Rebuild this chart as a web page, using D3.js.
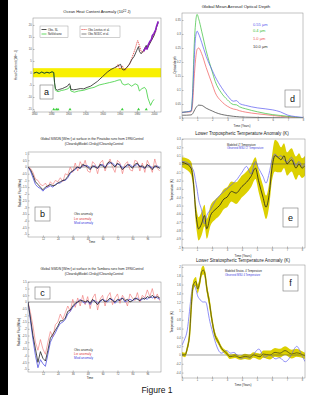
<!DOCTYPE html>
<html><head><meta charset="utf-8">
<script src="https://cdn.jsdelivr.net/npm/d3@7"></script>
<style>body{margin:0;background:#fff}svg{display:block}</style>
</head><body><svg id="c" width="325" height="395"></svg>
<script>
// ---------- Panel a: Ocean heat content anomaly ----------
const aBlackYears=[1860,1863,1866,1869,1872,1875,1878,1881,1883,1884,1885,1887,1890,1893,1896,1899,1901,1902,1903,1906,1910,1914,1918,1922,1926,1930,1934,1937,1940,1943,1946,1950,1954,1958,1961,1963,1965,1968,1971,1974,1977,1980,1982,1983,1985,1988,1991,1992,1994,1997,2000,2003,2005];
const aBlack=[0.0,0.3,-0.2,0.4,-0.1,0.3,0.0,0.5,0.2,-4.0,-6.5,-7.2,-6.8,-6.5,-6.0,-5.5,-4.5,-4.8,-6.8,-7.0,-6.8,-6.5,-6.6,-6.0,-5.5,-4.5,-3.5,-2.5,-1.5,-0.5,0.5,1.5,2.2,3.0,3.6,1.5,1.2,2.2,3.5,5.5,7.0,9.5,11.0,9.0,8.0,9.5,11.5,10.0,11.5,13.5,15.5,19.0,21.0];
const aGreenYears=[1860,1863,1866,1869,1872,1875,1878,1881,1883,1884,1885,1888,1892,1896,1900,1902,1903,1907,1912,1918,1924,1930,1936,1942,1948,1954,1958,1961,1963,1966,1970,1974,1978,1981,1983,1986,1989,1991,1993,1995,1996,1998,2000];
const aGreen=[0.0,0.3,-0.2,0.4,-0.1,0.3,0.0,0.5,0.2,-4.5,-7.2,-7.8,-7.3,-7.0,-6.5,-5.5,-7.5,-8.0,-7.5,-7.2,-6.5,-6.0,-5.0,-4.5,-4.0,-3.5,-3.0,-2.8,-4.5,-5.0,-4.5,-5.5,-4.5,-5.0,-7.5,-6.5,-6.0,-7.0,-10.5,-12.5,-13.5,-12.0,-11.0];
const aRedYears=[1955,1958,1960,1963,1966,1969,1972,1975,1978,1980,1981,1983,1985,1987,1990,1993,1996,1999,2003];
const aRed=[2.0,3.5,1.5,3.0,1.0,2.5,4.0,7.0,10.0,12.5,13.5,11.5,9.0,8.5,10.0,11.0,13.0,15.0,18.0];
const aPurpleYears=[1988,1990,1992,1993,1995,1997,1998,2000,2002,2003,2005];
const aPurple=[9.0,10.5,10.0,11.5,13.0,14.0,15.5,16.5,18.0,19.5,21.5];
const aVolcanoYears=[1883,1886,1888,1902,1963,1982,1991];
const aBand=[-1.8,2.0];
const aXTicks=[1860,1880,1900,1920,1940,1960,1980,2000];
const aYTicks=[-15,-10,-5,0,5,10,15,20];

// ---------- Panels b, c: SW radiative flux (2-month steps) ----------
const bcMonths=d3.range(0,108,2);
const bObs=[0,-0.2,-0.6,-1.1,-1.3,-1.5,-1.7,-1.5,-1.4,-1.3,-1.4,-1.35,-1.2,-1.1,-1.0,-0.95,-0.7,-0.4,-0.3,-0.1,0.0,-0.1,0.2,0.1,0.0,-0.2,0.1,0.0,-0.1,0.2,0.1,-0.1,0.3,0.4,0.2,0.0,0.3,0.1,-0.2,0.0,0.2,0.1,-0.1,0.2,0.3,0.0,0.1,-0.1,0.2,0.0,-0.2,0.1,0.0,-0.1];
const bLsr=[0,-0.1,-0.4,-0.9,-1.0,-1.3,-1.4,-1.2,-1.5,-1.1,-1.3,-1.0,-1.1,-0.8,-1.1,-0.5,-0.6,0.0,-0.4,0.3,-0.3,0.4,0.0,0.5,-0.3,-0.4,0.4,0.2,-0.5,0.3,0.5,-0.3,0.2,0.6,0.0,-0.4,0.5,0.3,-0.5,0.2,0.4,-0.2,-0.3,0.5,0.4,-0.3,0.3,-0.4,0.5,0.1,-0.4,0.6,-0.1,-0.3];
const bMod=[0,-0.3,-0.8,-1.3,-1.5,-1.6,-1.8,-1.6,-1.5,-1.4,-1.5,-1.3,-1.2,-1.2,-1.0,-1.0,-0.8,-0.5,-0.3,-0.2,0.0,-0.1,0.1,0.1,0.1,-0.1,0.0,0.1,-0.1,0.1,0.2,0.0,0.2,0.3,0.3,0.1,0.2,0.2,-0.1,0.0,0.1,0.2,0.0,0.1,0.2,0.1,0.0,-0.1,0.1,0.1,-0.1,0.0,0.1,-0.1];
const cObs=[0,-1.2,-2.5,-3.5,-4.5,-3.7,-4.2,-4.4,-3.6,-2.7,-2.4,-2.1,-1.8,-1.4,-1.4,-1.2,-0.7,-0.6,-0.3,-0.1,0.0,0.1,0.1,0.0,0.1,-0.1,0.2,0.0,-0.2,0.1,0.2,0.0,0.1,0.3,0.1,0.0,0.2,0.1,0.3,0.1,0.2,0.0,0.1,0.3,0.2,0.1,0.3,0.2,0.4,0.3,0.5,0.3,0.4,0.3];
const cLsr=[0,-0.8,-1.8,-3.0,-3.6,-2.8,-3.5,-3.9,-3.0,-2.2,-2.6,-1.7,-1.5,-0.9,-1.3,-0.8,-0.3,-0.7,0.2,-0.4,0.3,-0.3,0.5,-0.2,0.4,-0.5,0.3,0.6,-0.6,0.2,0.5,-0.3,0.4,0.7,-0.2,0.3,0.6,-0.1,0.5,0.2,-0.3,0.6,0.3,0.1,0.7,0.0,0.5,0.3,0.9,0.4,1.0,0.2,0.6,0.1];
const cMod=[0,-1.4,-2.8,-4.0,-4.9,-4.3,-4.6,-4.8,-3.9,-3.0,-2.6,-2.3,-1.9,-1.6,-1.5,-1.3,-0.9,-0.7,-0.4,-0.2,0.0,0.2,0.0,-0.1,0.1,-0.2,0.1,0.1,-0.1,0.0,0.2,0.1,0.0,0.2,0.2,-0.1,0.1,0.2,0.3,0.0,0.1,0.2,0.1,0.2,0.3,0.1,0.2,0.3,0.2,0.4,0.3,0.4,0.3,0.2];
const bcXTicks=[12,24,36,48,60,72,84,96];
const bcYTicks=[-5,-4.5,-4,-3.5,-3,-2.5,-2,-1.5,-1,-0.5,0,0.5,1];
const bcLegend=["Obs anomaly","Lsr anomaly","Mod anomaly"];

// ---------- Panel d: aerosol optical depth ----------
const dYears=[0,0.3,0.6,0.7,0.8,0.9,1.0,1.1,1.3,1.6,2.0,2.2,2.6,3.0,3.4,3.6,3.8,4.2,5.0,6.0,6.5,7.0,7.5,8.0];
const dBlue=[0.02,0.022,0.025,0.08,0.2,0.29,0.31,0.30,0.27,0.22,0.17,0.147,0.11,0.08,0.06,0.062,0.052,0.045,0.036,0.029,0.022,0.01,0.005,0.002];
const dGreen=[0.02,0.022,0.025,0.09,0.25,0.34,0.37,0.355,0.31,0.24,0.165,0.13,0.09,0.065,0.048,0.047,0.04,0.033,0.022,0.012,0.009,0.006,0.003,0.001];
const dRed=[0.02,0.021,0.022,0.05,0.14,0.21,0.245,0.25,0.23,0.18,0.12,0.09,0.06,0.042,0.032,0.03,0.026,0.021,0.015,0.009,0.006,0.004,0.002,0.001];
const dBlack=[0.01,0.01,0.011,0.015,0.025,0.035,0.042,0.046,0.045,0.035,0.025,0.02,0.013,0.009,0.006,0.005,0.004,0.003,0.002,0.001,0.001,0.0,0.0,0.0];
const dLegend=["0.55 µm","0.4 µm","1.0 µm","10.0 µm"];
const dYTicks=[0,0.05,0.1,0.15,0.2,0.25,0.3,0.35];
const yearTicks=[0,1,2,3,4,5,6,7,8];

// ---------- Panel e: lower tropospheric temperature ----------
const eYears=[0,0.3,0.6,0.8,0.9,1.0,1.1,1.3,1.5,1.65,1.9,2.2,2.5,2.8,3.0,3.3,3.6,4.0,4.3,4.6,4.9,5.1,5.4,5.6,5.8,6.0,6.2,6.4,6.6,6.8,7.0,7.3,7.6,7.8,8.0,8.2];
const eModel=[0.02,0.0,-0.05,-0.3,-0.55,-0.7,-0.78,-0.72,-0.62,-0.78,-0.62,-0.55,-0.5,-0.42,-0.4,-0.33,-0.35,-0.27,-0.22,-0.15,-0.05,-0.2,-0.4,-0.52,-0.38,-0.05,0.1,0.08,0.05,0.1,0.0,0.05,-0.05,0.0,-0.05,-0.02];
const eObs=[0.03,0.02,-0.03,-0.1,-0.2,-0.3,-0.42,-0.55,-0.72,-0.62,-0.55,-0.45,-0.38,-0.33,-0.3,-0.25,-0.2,-0.1,-0.03,-0.12,0.03,-0.05,-0.15,-0.23,-0.12,0.05,0.12,0.08,0.1,0.05,0.02,0.08,-0.02,0.03,-0.03,0.0];
const eSpread=[0.06,0.07,0.08,0.1,0.12,0.13,0.14,0.14,0.13,0.12,0.12,0.12,0.12,0.12,0.12,0.12,0.13,0.13,0.13,0.13,0.13,0.13,0.14,0.14,0.14,0.15,0.19,0.18,0.15,0.15,0.14,0.14,0.14,0.13,0.12,0.12];
const eYTicks=[-1,-0.9,-0.8,-0.7,-0.6,-0.5,-0.4,-0.3,-0.2,-0.1,0,0.1,0.2,0.3];

// ---------- Panel f: lower stratospheric temperature ----------
const fYears=[0,0.2,0.35,0.5,0.64,0.75,0.93,1.04,1.16,1.31,1.42,1.55,1.64,1.82,1.98,2.2,2.42,2.64,2.98,3.2,3.53,3.87,4.2,4.53,4.76,5.2,5.42,5.87,6.2,6.53,6.87,7.31,7.64,7.87,8.2];
const fModel=[0.02,0.0,0.15,0.45,1.21,1.59,1.67,1.5,1.62,1.89,1.93,1.8,1.55,1.21,0.83,0.45,0.3,0.15,0.04,-0.04,-0.02,-0.06,-0.03,-0.05,0.0,-0.04,0.02,0.0,0.06,0.04,0.1,0.02,0.05,0.03,-0.02];
const fObs=[0.22,0.38,0.5,1.0,1.45,1.66,1.51,1.32,1.28,1.21,1.2,1.21,1.2,0.79,0.6,0.3,0.1,0.0,0.15,0.0,0.11,-0.15,0.0,-0.11,0.0,0.23,-0.15,0.08,-0.15,0.0,-0.23,0.0,0.27,0.08,-0.15];
const fSpread=[0.05,0.05,0.06,0.08,0.1,0.1,0.1,0.1,0.1,0.1,0.1,0.1,0.1,0.1,0.08,0.07,0.06,0.05,0.05,0.05,0.05,0.05,0.06,0.06,0.06,0.07,0.08,0.1,0.1,0.1,0.1,0.1,0.09,0.08,0.07];
const fYTicks=[-0.4,-0.2,0,0.2,0.4,0.6,0.8,1.0,1.2,1.4,1.6,1.8,2.0];

// ================= drawing =================
const FONT='"Liberation Sans", Arial, sans-serif';
const svg=d3.select('#c');
svg.append('rect').attr('width',325).attr('height',395).attr('fill','#fff');
svg.append('rect').attr('x',0).attr('y',0).attr('width',8).attr('height',395).attr('fill','#000');

function txt(x,y,s,size,opt={}){
  const t=svg.append('text').attr('x',x).attr('y',y).text(s)
    .attr('font-family',FONT).attr('font-size',size).attr('fill',opt.fill||'#222')
    .attr('text-anchor',opt.anchor||'middle');
  if(opt.rot) t.attr('transform',`rotate(-90,${x},${y})`);
  return t;
}
function supText(x,y,pre,sup,post,size,opt={}){
  const t=svg.append('text').attr('x',x).attr('y',y)
    .attr('font-family',FONT).attr('font-size',size).attr('fill','#222').attr('text-anchor','middle');
  t.append('tspan').text(pre);
  t.append('tspan').text(sup).attr('font-size',size*0.7).attr('dy',-size*0.35);
  t.append('tspan').text(post).attr('dy',size*0.35);
  if(opt.rot) t.attr('transform',`rotate(-90,${x},${y})`);
}
function styleAxis(sel){
  sel.select('.domain').remove();
  sel.selectAll('line').attr('stroke','#555').attr('stroke-width',0.4);
  sel.selectAll('text').attr('font-size',2.6).attr('fill','#444').attr('font-family',FONT);
}
function panel(o){
  const x=d3.scaleLinear().domain(o.xd).range([o.l,o.r]);
  const y=d3.scaleLinear().domain(o.yd).range([o.b,o.t]);
  const g=svg.append('g');
  const id='clip'+o.name;
  svg.append('clipPath').attr('id',id).append('rect')
    .attr('x',o.l).attr('y',o.t).attr('width',o.r-o.l).attr('height',o.b-o.t);
  const inner=g.append('g').attr('clip-path',`url(#${id})`);
  g.append('g').attr('transform',`translate(0,${o.b})`)
    .call(d3.axisBottom(x).tickValues(o.xt).tickFormat(o.xf||d3.format('d')).tickSize(-1.5).tickPadding(1.6))
    .call(styleAxis);
  g.append('g').attr('transform',`translate(${o.l},0)`)
    .call(d3.axisLeft(y).tickValues(o.yt).tickFormat(o.yf||(d=>d)).tickSize(-1.5).tickPadding(1.4))
    .call(styleAxis);
  g.append('rect').attr('x',o.l).attr('y',o.t).attr('width',o.r-o.l).attr('height',o.b-o.t)
    .attr('fill','none').attr('stroke','#888').attr('stroke-width',0.5);
  return {x,y,inner};
}
function line(p,xs,ys,color,w,opt={}){
  const gen=d3.line().x((d,i)=>p.x(xs[i])).y(d=>p.y(d));
  if(opt.curve) gen.curve(opt.curve);
  const path=p.inner.append('path').datum(ys).attr('d',gen)
    .attr('fill','none').attr('stroke',color).attr('stroke-width',w)
    .attr('stroke-linejoin','round');
  if(opt.dash) path.attr('stroke-dasharray',opt.dash);
  return path;
}
function band(p,xs,mid,spread,color){
  const gen=d3.area().x((d,i)=>p.x(xs[i])).y0((d,i)=>p.y(mid[i]-spread[i])).y1((d,i)=>p.y(mid[i]+spread[i])).curve(d3.curveMonotoneX);
  p.inner.append('path').datum(mid).attr('d',gen).attr('fill',color).attr('stroke','none');
}
function zero(p){
  p.inner.append('line').attr('x1',p.x.range()[0]).attr('x2',p.x.range()[1])
    .attr('y1',p.y(0)).attr('y2',p.y(0)).attr('stroke','#444').attr('stroke-width',0.5);
}
function letterBox(x,y,w,h,s){
  svg.append('rect').attr('x',x).attr('y',y).attr('width',w).attr('height',h)
    .attr('fill','#fff').attr('stroke','#777').attr('stroke-width',0.6);
  txt(x+w/2,y+h/2+3,s,9,{fill:'#111'});
}

// ---- Panel a ----
const pa=panel({name:'a',l:33,r:161,t:18,b:112,xd:[1858.8,2008.2],yd:[-16.25,22.9],xt:aXTicks,yt:aYTicks});
pa.inner.append('rect').attr('x',33).attr('width',128)
  .attr('y',pa.y(aBand[1])).attr('height',pa.y(aBand[0])-pa.y(aBand[1])).attr('fill','#f8f000');
line(pa,aGreenYears,aGreen,'#3ccf3c',0.8);
line(pa,aRedYears,aRed,'#e03030',0.8,{dash:'1.2,0.8'});
line(pa,aBlackYears,aBlack,'#222',0.8);
line(pa,aPurpleYears,aPurple,'#8a1fc0',1.6);
pa.inner.selectAll('path.volc').data(aVolcanoYears).join('path').attr('class','volc')
  .attr('d',d3.symbol().type(d3.symbolTriangle).size(4))
  .attr('transform',d=>`translate(${pa.x(d)},${pa.y(-15.2)})`).attr('fill','#3ccf3c');
supText(97,13,'Ocean Heat Content Anomaly (10','22',' J)',4);
supText(17,65,'Heat Content (10','22',' J)',3.2,{rot:true});
svg.append('rect').attr('x',40).attr('y',26).attr('width',28).attr('height',11.5).attr('fill','#fff').attr('stroke','#888').attr('stroke-width',0.4);
svg.append('line').attr('x1',41.5).attr('x2',46.5).attr('y1',29.5).attr('y2',29.5).attr('stroke','#222').attr('stroke-width',0.8);
svg.append('line').attr('x1',41.5).attr('x2',46.5).attr('y1',34).attr('y2',34).attr('stroke','#3ccf3c').attr('stroke-width',0.8);
txt(48,30.5,'Obs. SL',2.8,{anchor:'start'});
txt(48,35,'NoVolcano',2.8,{anchor:'start'});
svg.append('rect').attr('x',80).attr('y',26).attr('width',40).attr('height',11.5).attr('fill','#fff').attr('stroke','#888').attr('stroke-width',0.4);
svg.append('line').attr('x1',81.5).attr('x2',86.5).attr('y1',29.5).attr('y2',29.5).attr('stroke','#e03030').attr('stroke-width',0.8).attr('stroke-dasharray','1.2,0.8');
svg.append('line').attr('x1',81.5).attr('x2',86.5).attr('y1',34).attr('y2',34).attr('stroke','#666').attr('stroke-width',0.8);
txt(88,30.5,'Obs Levitus et al.',2.8,{anchor:'start'});
txt(88,35,'Obs NODC et al.',2.8,{anchor:'start'});
letterBox(40,85,13,14,'a');

// ---- Panel b ----
const pb=panel({name:'b',l:28,r:161,t:152,b:237,xd:[0,107],yd:[-5.22,1.12],xt:bcXTicks,yt:bcYTicks});
zero(pb);
line(pb,bcMonths,bLsr,'#f07070',0.6);
line(pb,bcMonths,bMod,'#5050e0',0.8);
line(pb,bcMonths,bObs,'#222',0.8);
txt(92,140,'Global SWDN [W/m²] at surface in the Pinatubo runs from 1990Control',3.3);
txt(94,144.5,'(ClearskyModel-Clrsky)/ClearskyControl',3.3);
txt(20.5,193,'Radiative Flux [W/m²]',3,{rot:true});
txt(92,243,'Time',3);
txt(74,215,bcLegend[0],3.2,{anchor:'start',fill:'#333'});
txt(74,219.5,bcLegend[1],3.2,{anchor:'start',fill:'#e04040'});
txt(74,224,bcLegend[2],3.2,{anchor:'start',fill:'#4040e0'});
letterBox(35,207,15,14,'b');

// ---- Panel c ----
const pc=panel({name:'c',l:28,r:161,t:282,b:372,xd:[0,107],yd:[-5.22,1.49],xt:bcXTicks,yt:bcYTicks.concat([1.5])});
zero(pc);
line(pc,bcMonths,cLsr,'#f07070',0.6);
line(pc,bcMonths,cMod,'#5050e0',0.8);
line(pc,bcMonths,cObs,'#222',0.8);
txt(92,270,'Global SWDN [W/m²] at surface in the Tambora runs from 1990Control',3.3);
txt(94,274.5,'(ClearskyModel-Clrsky)/ClearskyControl',3.3);
txt(20,332,'Radiative Flux [W/m²]',3,{rot:true});
txt(90,378.5,'Time',3);
txt(74,351,bcLegend[0],3.2,{anchor:'start',fill:'#333'});
txt(74,355,bcLegend[1],3.2,{anchor:'start',fill:'#e04040'});
txt(74,359,bcLegend[2],3.2,{anchor:'start',fill:'#4040e0'});
letterBox(35,287,15,12,'c');

// ---- Panel d ----
const pd=panel({name:'d',l:182,r:303,t:13,b:118,xd:[0,8],yd:[0,0.375],xt:yearTicks,yt:dYTicks});
const sm=d3.curveMonotoneX;
line(pd,dYears,dBlack,'#333',0.7,{curve:sm});
line(pd,dYears,dRed,'#f05858',0.7,{curve:sm});
line(pd,dYears,dGreen,'#38c038',0.7,{curve:sm});
line(pd,dYears,dBlue,'#5858f0',0.7,{curve:sm});
txt(236,7.5,'Global Mean Aerosol Optical Depth',4.4);
txt(176,65,'Optical depth',3,{rot:true});
txt(242,127,'Time (Years)',3);
const dCols=['#5858f0','#38c038','#f05858','#333'];
const dRowY=[25.5,32,40,47.5];
dLegend.forEach((s,i)=>txt(253,dRowY[i],s,4,{anchor:'start',fill:dCols[i]}));
letterBox(285,90,15,17,'d');

// ---- Panel e ----
const pe=panel({name:'e',l:182,r:305,t:139,b:248,xd:[0,8.2],yd:[-1.01,0.3],xt:yearTicks,yt:eYTicks});
band(pe,eYears,eModel,eSpread,'#dcd000');
zero(pe);
line(pe,eYears,eObs,'#6060f0',0.7,{curve:sm});
line(pe,eYears,eModel,'#222',0.8,{curve:sm});
txt(242,135,'Lower Tropospheric Temperature Anomaly (K)',4.6);
txt(173,190,'Temperature (K)',3,{rot:true});
txt(243,256.5,'Time (Years)',3);
txt(227,146,'Modeled LT Temperature',2.6,{anchor:'start',fill:'#222'});
txt(227,149.3,'Observed MSU LT Temperature',2.6,{anchor:'start',fill:'#4040e0'});
letterBox(283,208,15,19,'e');

// ---- Panel f ----
const pf=panel({name:'f',l:182,r:305,t:265,b:378,xd:[0,8.2],yd:[-0.523,2.045],xt:yearTicks,yt:fYTicks});
band(pf,fYears,fModel,fSpread,'#dcd000');
zero(pf);
line(pf,fYears,fObs,'#6060f0',0.7,{curve:d3.curveBasis});
line(pf,fYears,fModel,'#d8cc00',1.6,{curve:sm});
line(pf,fYears,fModel,'#222',0.6,{curve:sm});
txt(243,262,'Lower Stratospheric Temperature Anomaly (K)',4.6);
txt(173,322,'Temperature (K)',3,{rot:true});
txt(243,385.5,'Time (Years)',3);
txt(225,272,'Modeled Stratos. 4 Temperature',2.6,{anchor:'start',fill:'#222'});
txt(225,275.5,'Observed MSU 4 Temperature',2.6,{anchor:'start',fill:'#4040e0'});
letterBox(283,275,15,16,'f');

txt(157,393,'Figure 1',8.5,{fill:'#111'});
</script></body></html>
